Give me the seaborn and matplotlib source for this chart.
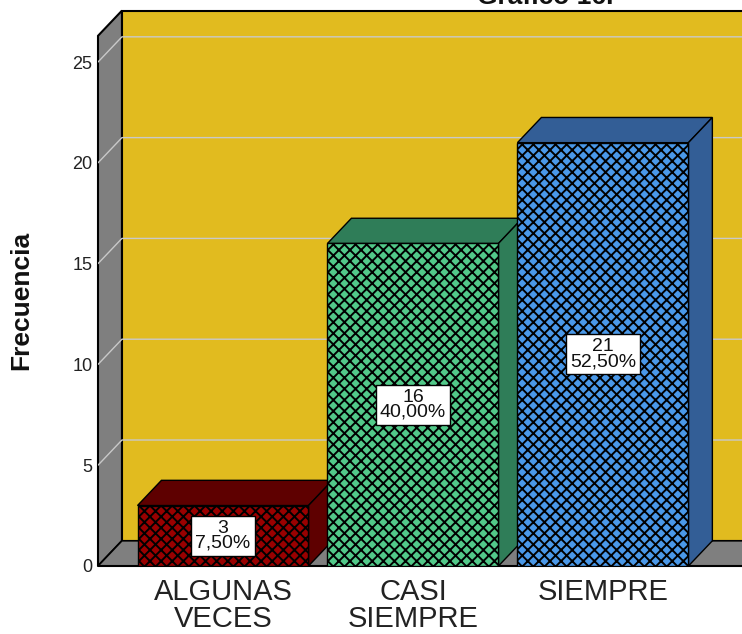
import pandas as pd
import matplotlib.pyplot as plt
from matplotlib.patches import Polygon, Rectangle
import seaborn as sns

# datos
categorias = ['ALGUNAS\nVECES', 'CASI\nSIEMPRE', 'SIEMPRE']
frecuencias = [3, 16, 21]
porcentajes = ['7,50%', '40,00%', '52,50%']
ticks_y = [0, 5, 10, 15, 20, 25]

colores_frente = ['#990000', '#52C989', '#4A98E8']
colores_lado = ['#5E0000', '#2F7D58', '#335E96']

sns.set_style('white')
plt.rcParams['font.family'] = ['Liberation Sans', 'DejaVu Sans']
plt.rcParams['hatch.linewidth'] = 1.4
plt.rcParams['hatch.color'] = 'black'

df = pd.DataFrame({'categoria': categorias, 'frecuencia': frecuencias})

fig = plt.figure(figsize=(7.42, 6.34), dpi=100)
ax = fig.add_axes([98 / 742, 68 / 634, 644 / 742, 558 / 634])

sns.barplot(data=df, x='categoria', y='frecuencia', hue='categoria',
            palette=colores_frente, width=0.9, saturation=1, legend=False,
            edgecolor='black', linewidth=1, ax=ax)

x0, x1 = -0.658, 2.732
dx, dy = 0.126, 1.25
alto = 26.3
ax.set_xlim(x0, x1)
ax.set_ylim(0, 27.68)

# caja 3D: pared del fondo, pared izquierda y suelo
ax.add_patch(Rectangle((x0 + dx, dy), x1 - x0 + 1, alto, facecolor='#E1BB1F',
                       edgecolor='black', lw=1.5, zorder=0.5, clip_on=False))
ax.add_patch(Polygon([(x0, 0), (x0 + dx, dy), (x0 + dx, alto + dy), (x0, alto)],
                     facecolor='#7F7F7F', edgecolor='black', lw=1.5, zorder=0.6, clip_on=False))
ax.add_patch(Polygon([(x0, 0), (x0 + dx, dy), (x1 + 1, dy), (x1 + 1, 0)],
                     facecolor='#7F7F7F', edgecolor='black', lw=1.2, zorder=0.7))
for t in ticks_y[1:]:
    ax.plot([x0, x0 + dx, x1 + 1], [t, t + dy, t + dy], color='#C9C9C9', lw=1, zorder=0.8)
ax.plot([x0, x1 + 1], [0, 0], color='black', lw=1.5, zorder=1, clip_on=False)

# caras laterales y superiores de las barras
barras = [b for c in ax.containers for b in c]
for i, p in enumerate(barras):
    x, w, h = p.get_x(), p.get_width(), p.get_height()
    p.set_hatch('xxx')
    p.set_zorder(3 + 2 * i)
    ax.add_patch(Polygon([(x, h), (x + dx, h + dy), (x + w + dx, h + dy), (x + w, h)],
                         facecolor=colores_lado[i], edgecolor='black', lw=1, zorder=2 + 2 * i))
    ax.add_patch(Polygon([(x + w, 0), (x + w + dx, dy), (x + w + dx, h + dy), (x + w, h)],
                         facecolor=colores_lado[i], edgecolor='black', lw=1, zorder=2 + 2 * i))
    ax.text(i, frecuencias[i] / 2, f'{frecuencias[i]}\n{porcentajes[i]}',
            ha='center', va='center', fontsize=14, linespacing=0.85, color='#111111',
            bbox=dict(facecolor='white', edgecolor='black', boxstyle='square,pad=0.2'),
            zorder=20)

ax.set_yticks(ticks_y)
ax.tick_params(axis='both', length=0)
ax.tick_params(axis='y', labelsize=13, pad=4, labelcolor='#222222')
ax.tick_params(axis='x', labelsize=21, pad=9, labelcolor='#222222')
for lbl in ax.get_xticklabels():
    lbl.set_linespacing(0.92)
ax.set_xlabel('')
ax.set_ylabel('')
for s in ax.spines.values():
    s.set_visible(False)

fig.text(21 / 742, 334 / 634, 'Frecuencia', rotation=90, ha='center', va='center',
         fontsize=19, fontweight='bold', color='#111111')
fig.text(545 / 742, 1 - 4 / 634, 'Gráfico 16.', ha='center', va='baseline',
         fontsize=19, fontweight='bold', color='#111111')

fig.savefig('out.png', dpi=100)
